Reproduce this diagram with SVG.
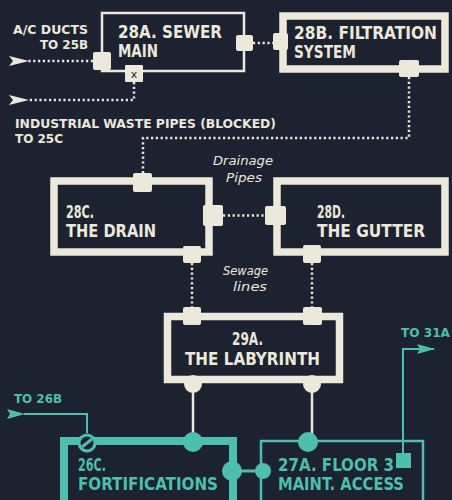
<svg xmlns="http://www.w3.org/2000/svg" width="452" height="500" viewBox="0 0 452 500">
<defs>
<style>
.bg{fill:#1c2230}
.thin{fill:none;stroke:#ece8da;stroke-width:2.5}
.thick{fill:none;stroke:#ece8da;stroke-width:7.5}
.tthick{fill:none;stroke:#4dbfae;stroke-width:8}
.tthin{fill:none;stroke:#4dbfae;stroke-width:2.5}
.port{fill:#ece8da}
.tport{fill:#4dbfae}
.dot{fill:none;stroke:#ece8da;stroke-width:2.5;stroke-dasharray:2.2 2.6}
.wline{fill:none;stroke:#ece8da;stroke-width:2.5}
.tline{fill:none;stroke:#4dbfae;stroke-width:2}
.title{font-family:"DejaVu Sans Condensed","DejaVu Sans",sans-serif;font-size:17px;font-weight:bold;fill:#ece8da}
.ttitle{font-family:"DejaVu Sans Condensed","DejaVu Sans",sans-serif;font-size:17px;font-weight:bold;fill:#4dbfae}
.lab{font-family:"DejaVu Sans Condensed","DejaVu Sans",sans-serif;font-size:12.5px;font-weight:bold;fill:#ece8da}
.tlab{font-family:"DejaVu Sans Condensed","DejaVu Sans",sans-serif;font-size:12.5px;font-weight:bold;fill:#4dbfae}
.hand{font-family:"DejaVu Sans","Liberation Sans",sans-serif;font-size:12px;font-style:italic;fill:#ece8da}
</style>
<marker id="wa" markerWidth="20" markerHeight="10" refX="1" refY="5" orient="auto" markerUnits="userSpaceOnUse">
<path d="M0,5 L20,0 L16,5 L20,10 Z" fill="#ece8da"/>
</marker>
<marker id="ta" markerWidth="18" markerHeight="10" refX="17" refY="5" orient="auto" markerUnits="userSpaceOnUse">
<path d="M18,5 L0,0 L3,5 L0,10 Z" fill="#4dbfae"/>
</marker>
<marker id="tal" markerWidth="18" markerHeight="10" refX="1" refY="5" orient="auto" markerUnits="userSpaceOnUse">
<path d="M0,5 L18,0 L15,5 L18,10 Z" fill="#4dbfae"/>
</marker>
</defs>
<rect class="bg" x="0" y="0" width="452" height="500"/>

<g id="connectors">
<path class="dot" d="M93,61 H28" marker-end="url(#wa)"/>
<path class="dot" d="M134,82 V100 H28" marker-end="url(#wa)"/>
<path class="dot" d="M253,43 H273"/>
<path class="dot" d="M409,77 V138 H143 V173"/>
<path class="dot" d="M223,215.5 H265"/>
<path class="dot" d="M192,263 V307"/>
<path class="dot" d="M312,263 V307"/>
<path class="wline" d="M193,385 V442"/>
<path class="wline" d="M312,385 V442"/>
<path class="tline" d="M87,433 V414 H24" marker-end="url(#tal)"/>
<path class="tline" d="M232,471 H263" style="stroke-width:3"/>
<path class="tline" d="M403,453 V349 H434" marker-end="url(#ta)"/>
<text class="lab" x="88" y="34" text-anchor="end" textLength="75" lengthAdjust="spacingAndGlyphs">A/C DUCTS</text>
<text class="lab" x="88" y="49" text-anchor="end" textLength="48" lengthAdjust="spacingAndGlyphs">TO 25B</text>
<text class="lab" x="15" y="128" textLength="261" lengthAdjust="spacingAndGlyphs">INDUSTRIAL WASTE PIPES (BLOCKED)</text>
<text class="lab" x="15" y="143" textLength="48" lengthAdjust="spacingAndGlyphs">TO 25C</text>
<text class="hand" x="213" y="165" textLength="60" lengthAdjust="spacingAndGlyphs">Drainage</text>
<text class="hand" x="226" y="182" textLength="36" lengthAdjust="spacingAndGlyphs">Pipes</text>
<text class="hand" x="223" y="275" textLength="45" lengthAdjust="spacingAndGlyphs">Sewage</text>
<text class="hand" x="233" y="291" textLength="34" lengthAdjust="spacingAndGlyphs">lines</text>
<text class="tlab" x="14" y="403" textLength="48" lengthAdjust="spacingAndGlyphs">TO 26B</text>
<text class="tlab" x="401" y="337" textLength="49" lengthAdjust="spacingAndGlyphs">TO 31A</text>
</g>

<g id="n28a">
<rect class="thin" x="102" y="13" width="142" height="58"/>
<text class="title" x="118" y="38" textLength="104" lengthAdjust="spacingAndGlyphs">28A. SEWER</text>
<text class="title" x="118" y="57" textLength="40" lengthAdjust="spacingAndGlyphs">MAIN</text>
<rect class="port" x="93" y="52" width="18" height="18" rx="2"/>
<rect class="port" x="236" y="35" width="17" height="16" rx="2"/>
<rect class="port" x="125" y="65" width="18" height="17" rx="1"/>
<text x="134" y="78" text-anchor="middle" style="font-family:'DejaVu Sans',sans-serif;font-size:11px;fill:#1c2230">x</text>
</g>

<g id="n28b">
<rect class="thick" x="283" y="16" width="162" height="53"/>
<rect class="port" x="273" y="33" width="15" height="17" rx="2"/>
<rect class="port" x="399" y="60" width="20" height="17" rx="2"/>
<text class="title" x="294" y="39" textLength="143" lengthAdjust="spacingAndGlyphs">28B. FILTRATION</text>
<text class="title" x="294" y="58" textLength="62" lengthAdjust="spacingAndGlyphs">SYSTEM</text>
</g>

<g id="n28c">
<rect class="thick" x="54" y="181" width="155" height="71"/>
<rect class="port" x="133" y="173" width="19" height="19" rx="2"/>
<rect class="port" x="203" y="205" width="20" height="21" rx="2"/>
<rect class="port" x="183" y="246" width="18" height="17" rx="2"/>
<text class="title" x="66" y="218" textLength="28" lengthAdjust="spacingAndGlyphs">28C.</text>
<text class="title" x="66" y="237" textLength="90" lengthAdjust="spacingAndGlyphs">THE DRAIN</text>
</g>

<g id="n28d">
<rect class="thick" x="277" y="181" width="168" height="71"/>
<rect class="port" x="265" y="206" width="21" height="19" rx="2"/>
<rect class="port" x="303" y="245" width="18" height="18" rx="2"/>
<text class="title" x="317" y="218" textLength="28" lengthAdjust="spacingAndGlyphs">28D.</text>
<text class="title" x="317" y="237" textLength="108" lengthAdjust="spacingAndGlyphs">THE GUTTER</text>
</g>

<g id="n29a">
<rect class="thick" x="167.5" y="316.5" width="172" height="63"/>
<rect class="port" x="183" y="307" width="18" height="18" rx="2"/>
<rect class="port" x="303" y="307" width="19" height="18" rx="2"/>
<circle class="port" cx="193" cy="384" r="9"/>
<circle class="port" cx="312" cy="384" r="9"/>
<text class="title" x="232" y="345" textLength="31" lengthAdjust="spacingAndGlyphs">29A.</text>
<text class="title" x="185" y="365" textLength="135" lengthAdjust="spacingAndGlyphs">THE LABYRINTH</text>
</g>

<g id="n26c">
<rect class="tthick" x="64" y="441" width="169" height="80"/>
<circle class="tport" cx="193" cy="442" r="10"/>
<circle class="tport" cx="232" cy="471" r="10"/>
<circle cx="87" cy="443" r="9.5" fill="#4dbfae"/>
<circle cx="87" cy="443" r="6.5" fill="#1c2230"/>
<line x1="82" y1="447" x2="92" y2="439" stroke="#4dbfae" stroke-width="3"/>
<text class="ttitle" x="78" y="471" textLength="28" lengthAdjust="spacingAndGlyphs">26C.</text>
<text class="ttitle" x="78" y="490" textLength="140" lengthAdjust="spacingAndGlyphs">FORTIFICATIONS</text>
</g>

<g id="n27a">
<rect class="tthin" x="261" y="441" width="162" height="80"/>
<circle class="tport" cx="308" cy="442" r="10"/>
<circle class="tport" cx="263" cy="471" r="8"/>
<rect class="tport" x="396" y="453" width="15" height="15"/>
<text class="ttitle" x="278" y="471" textLength="116" lengthAdjust="spacingAndGlyphs">27A. FLOOR 3</text>
<text class="ttitle" x="278" y="490" textLength="126" lengthAdjust="spacingAndGlyphs">MAINT. ACCESS</text>
</g>
</svg>
